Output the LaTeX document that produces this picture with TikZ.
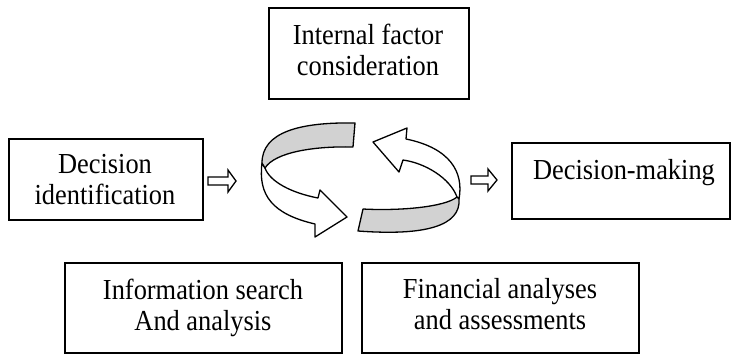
\documentclass[tikz,border=0pt]{standalone}
\usepackage{fontspec}
\setmainfont{Liberation Serif}[FakeStretch=0.91]
\begin{document}
\begin{tikzpicture}[x=1pt,y=-1pt,
  box/.style={draw, line width=1.6pt, inner sep=0pt},
  txt/.style={align=center, inner sep=0pt, font=\fontsize{29}{31}\selectfont},
  ribbon/.style={draw, line width=1.3pt, line join=round},
  band/.style={ribbon, fill=gray!35},
  face/.style={ribbon, fill=white},
  blockarrow/.style={draw, line width=1.3pt, fill=white, line join=miter}]
\useasboundingbox (0,0) rectangle (731,354);

% boxes
\node[box, minimum width=200pt, minimum height=91pt] (topbox) at (369,53.5) {};
\node[box, minimum width=194pt, minimum height=81pt] (leftbox) at (106,179.5) {};
\node[box, minimum width=218pt, minimum height=76pt] (rightbox) at (621,181) {};
\node[box, minimum width=277pt, minimum height=90pt] (blbox) at (203.5,308) {};
\node[box, minimum width=277pt, minimum height=90pt] (brbox) at (500.5,308) {};

% texts
\node[txt] (toptxt) at (368,49.6) {Internal factor\\consideration};
\node[txt] (lefttxt) at (105,179.6) {Decision\\identification};
\node[txt] (righttxt) at (624,172.3) {Decision-making};
\node[txt] (bltxt) at (203,307.8) {Information search\\And analysis};
\node[txt] (brtxt) at (500,304.1) {Financial analyses\\and assessments};

% hollow block arrows
\draw[blockarrow] (208,177) -- (228,177) -- (228,170) -- (236,181) -- (228,192) -- (228,185) -- (208,185) -- cycle;
\draw[blockarrow] (471,176) -- (488,176) -- (488,169) -- (497,180) -- (488,191) -- (488,184) -- (471,184) -- cycle;

% left ribbon arrow (white face then grey band)
\draw[face] (262,163) .. controls (258,195) and (272,214) .. (315,224)
  -- (315,237) -- (347,217) -- (320,190) -- (318,198)
  .. controls (292,193) and (270,182) .. (265,168) -- cycle;
\draw[band] (355,123) .. controls (300,122) and (262,132) .. (262,163)
  -- (265,168) .. controls (275,152) and (315,146) .. (353,147) -- cycle;

% right ribbon arrow
\draw[face] (459,199) .. controls (464,172) and (450,148) .. (406,139)
  -- (407,128) -- (373,142) -- (399,172) -- (403,160)
  .. controls (425,163) and (450,178) .. (457,197) -- cycle;
\draw[band] (363,209) .. controls (400,211) and (445,207) .. (457,197)
  -- (459,199) .. controls (461,226) and (425,236) .. (358,231) -- cycle;
\end{tikzpicture}
\end{document}
